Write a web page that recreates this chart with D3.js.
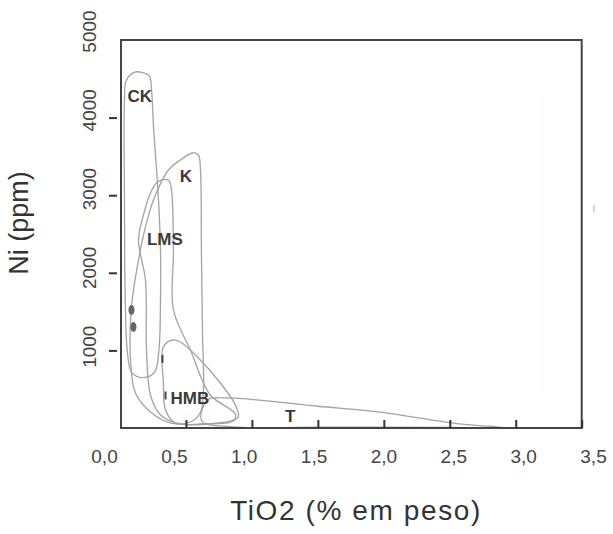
<!DOCTYPE html>
<html>
<head>
<meta charset="utf-8">
<script src="https://cdn.jsdelivr.net/npm/d3@7"></script>
<style>
  html, body { margin: 0; padding: 0; background: #fff; }
  svg { display: block; font-family: "Liberation Sans", Arial, Helvetica, sans-serif; }
</style>
</head>
<body>
<svg id="chart" width="613" height="534"></svg>
<script>
// ---- data (TiO2 wt% , Ni ppm) ----
const xTickValues = [0.5, 1.0, 1.5, 2.0, 2.5, 3.0, 3.5];
const xLabelValues = [0, 0.5, 1.0, 1.5, 2.0, 2.5, 3.0, 3.5];
const xLabelText = ["0,0", "0,5", "1,0", "1,5", "2,0", "2,5", "3,0", "3,5"];
const yTickValues = [1000, 2000, 3000, 4000];
const yLabelValues = [1000, 2000, 3000, 4000, 5000];
const yLabelText = ["1000", "2000", "3000", "4000", "5000"];

const fieldCK = [[0.034,4227],[0.049,4485],[0.117,4588],[0.178,4575],[0.223,4536],[0.239,4356],[0.254,3879],[0.269,3518],[0.292,2938],[0.307,2294],[0.307,1650],[0.295,1005],[0.262,720],[0.178,650],[0.090,710],[0.055,1000],[0.040,1650],[0.034,2938]];
const fieldK = [[0.458,3454],[0.549,3544],[0.594,3518],[0.610,3325],[0.617,2294],[0.625,1263],[0.632,451],[0.610,200],[0.534,77],[0.386,64],[0.231,206],[0.117,451],[0.080,876],[0.087,1559],[0.140,2165],[0.193,2590],[0.254,2938],[0.367,3325]];
const fieldLMS = [[0.284,3170],[0.367,3196],[0.390,3067],[0.405,2294],[0.405,1521],[0.534,1005],[0.685,425],[0.875,180],[0.860,90],[0.685,52],[0.458,52],[0.307,168],[0.231,425],[0.201,1005],[0.193,1907],[0.140,2423],[0.178,2745],[0.231,3028]];
const fieldHMB = [[0.329,1044],[0.398,1134],[0.458,1108],[0.587,915],[0.761,580],[0.875,296],[0.897,142],[0.837,90],[0.610,52],[0.420,64],[0.345,232],[0.329,580]];
const fieldT = [[0.663,361],[0.814,387],[1.5,280],[2.025,193],[2.525,64],[2.934,0],[2.5,8],[1.5,10],[0.85,15],[0.62,90]];
const fields = [fieldCK, fieldK, fieldLMS, fieldHMB, fieldT];

const fieldNames = ["CK", "K", "LMS", "HMB", "T"];
const fieldLabelPos = [[0.15, 4280], [0.50, 3250], [0.34, 2430], [0.53, 380], [1.29, 160]];

const blobPoints = [[0.087, 1521], [0.102, 1302]];
const dashPoints = [[0.322, 890], [0.345, 420]];

// ---- layout ----
const svg = d3.select("#chart");
const x = d3.scaleLinear().domain([0, 3.5]).range([120, 581.7]);
const y = d3.scaleLinear().domain([0, 5000]).range([428, 40]);
const xLab = d3.scaleLinear().domain([0, 3.5]).range([104, 593]);
const yLab = d3.scaleLinear().domain([0, 5000]).range([425, 31]);

// faint scan artefacts
svg.append("line").attr("x1", 542).attr("x2", 542).attr("y1", 97).attr("y2", 393)
  .attr("stroke", "#fafafa").attr("stroke-width", 3);
svg.append("line").attr("x1", 594).attr("x2", 594).attr("y1", 205).attr("y2", 212)
  .attr("stroke", "#bbb").attr("stroke-width", 1.2);

// fields
const line = d3.line().x(d => x(d[0])).y(d => y(d[1])).curve(d3.curveCatmullRomClosed.alpha(0.5));
svg.append("g").selectAll("path").data(fields).join("path")
  .attr("d", line).attr("fill", "none").attr("stroke", "#a3a3a3").attr("stroke-width", 1.3);

// small dark marks
svg.append("g").selectAll("ellipse").data(blobPoints).join("ellipse")
  .attr("cx", d => x(d[0])).attr("cy", d => y(d[1])).attr("rx", 3).attr("ry", 5).attr("fill", "#666");
svg.append("g").selectAll("line").data(dashPoints).join("line")
  .attr("x1", d => x(d[0])).attr("x2", d => x(d[0]))
  .attr("y1", d => y(d[1]) - 4).attr("y2", d => y(d[1]) + 4)
  .attr("stroke", "#444").attr("stroke-width", 2);

// frame
svg.append("rect").attr("x", x(0) + 1).attr("y", y(5000)).attr("width", x(3.5) - x(0) - 1).attr("height", y(0) - y(5000))
  .attr("fill", "none").attr("stroke", "#444").attr("stroke-width", 2);

// x ticks (inward)
const gx = svg.append("g").attr("transform", `translate(0,${y(0)})`)
  .call(d3.axisBottom(x).tickValues(xTickValues).tickSizeInner(-8).tickSizeOuter(0).tickFormat(""));
gx.select(".domain").remove();
gx.selectAll("line").attr("stroke", "#333").attr("stroke-width", 2);

// x labels
const gxl = svg.append("g").attr("transform", `translate(0,${y(0)})`)
  .call(d3.axisBottom(xLab).tickValues(xLabelValues).tickSize(0).tickFormat((d, i) => xLabelText[i]));
gxl.select(".domain").remove();
gxl.selectAll("text").attr("y", 0).attr("dy", 0).attr("transform", "translate(0,35)")
  .attr("font-size", 19).attr("fill", "#444").attr("font-family", "Liberation Sans, Arial, sans-serif");

// y ticks (outward, slight gap)
const gy = svg.append("g").attr("transform", `translate(${x(0) + 1},0)`)
  .call(d3.axisLeft(y).tickValues(yTickValues).tickSize(8).tickFormat(""));
gy.select(".domain").remove();
gy.selectAll("line").attr("x1", -4).attr("x2", -12).attr("stroke", "#333").attr("stroke-width", 2);

// y labels (rotated)
const gyl = svg.append("g").attr("transform", `translate(${x(0) + 1},0)`)
  .call(d3.axisLeft(yLab).tickValues(yLabelValues).tickSize(0).tickFormat((d, i) => yLabelText[i]));
gyl.select(".domain").remove();
gyl.selectAll("text").attr("x", 0).attr("y", -25).attr("dy", 0)
  .attr("transform", "rotate(-90)").attr("text-anchor", "middle")
  .attr("font-size", 19).attr("fill", "#444").attr("font-family", "Liberation Sans, Arial, sans-serif");

// field labels
svg.append("g").selectAll("text").data(fieldNames).join("text")
  .attr("x", (d, i) => x(fieldLabelPos[i][0])).attr("y", (d, i) => y(fieldLabelPos[i][1]))
  .attr("text-anchor", "middle").attr("dy", "0.35em")
  .attr("font-size", 17).attr("font-weight", "bold").attr("fill", "#3a3a3a")
  .text(d => d);

// axis titles
svg.append("text").attr("x", 356).attr("y", 520).attr("text-anchor", "middle")
  .attr("font-size", 28).attr("letter-spacing", 1.6).attr("fill", "#333")
  .text("TiO2 (% em peso)");
svg.append("text").attr("transform", "translate(28,223) rotate(-90)").attr("text-anchor", "middle")
  .attr("font-size", 27).attr("fill", "#333")
  .text("Ni (ppm)");
</script>
</body>
</html>
